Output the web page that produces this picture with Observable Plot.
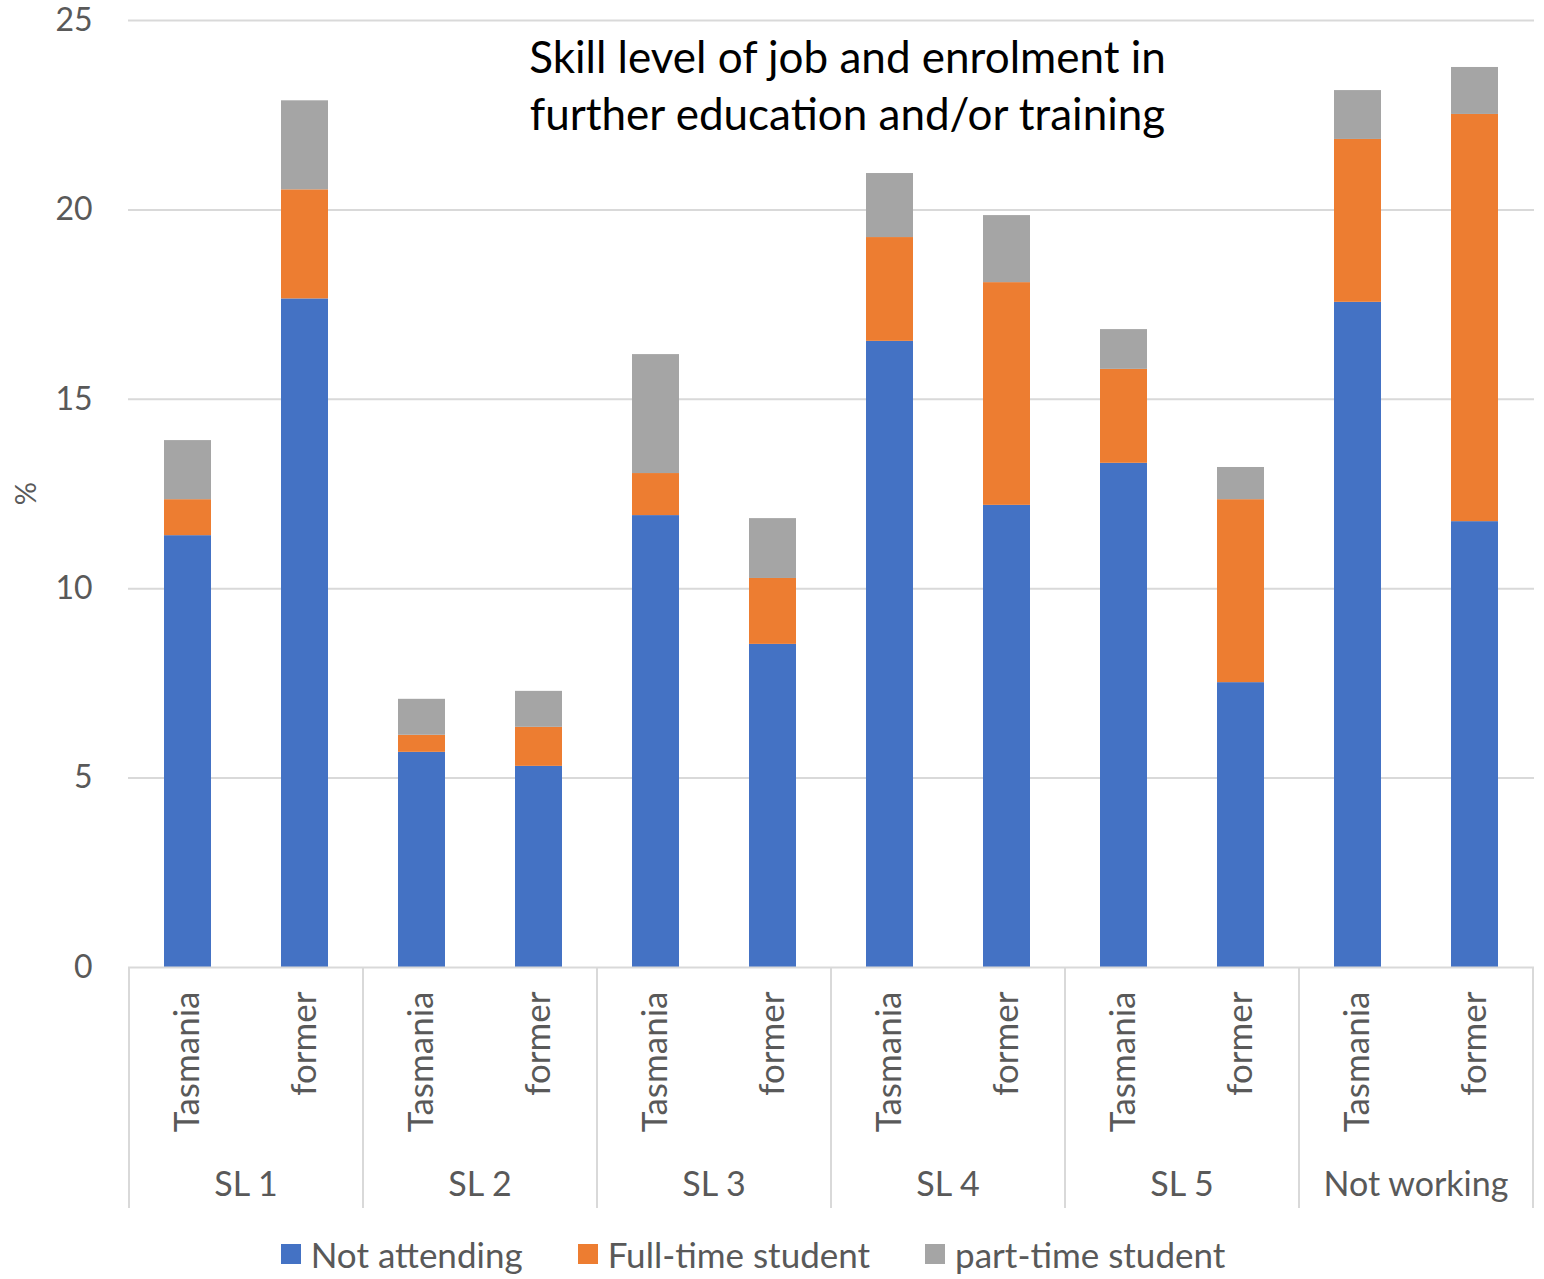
<!DOCTYPE html>
<html>
<head>
<meta charset="utf-8">
<script src="https://cdn.jsdelivr.net/npm/d3@7"></script>
<script src="https://cdn.jsdelivr.net/npm/@observablehq/plot@0.6"></script>
<style>
  html, body { margin: 0; padding: 0; background: #fff; }
  body { width: 1544px; font-family: Lato, "Open Sans", sans-serif; }
  #legend { display: flex; justify-content: center; align-items: center; gap: 55px; height: 54px; margin-right: 38px;
    font-size: 35px; color: #595959; padding-top: 2px; }
  #legend .item { display: flex; align-items: center; }
  #legend .sw { width: 20px; height: 20px; margin-right: 10px; }
</style>
</head>
<body>
<div id="chart"></div>
<div id="legend"></div>
<script>
const groups = ["SL 1", "SL 2", "SL 3", "SL 4", "SL 5", "Not working"];
const subs = ["Tasmania", "former"];
const seriesNames = ["Not attending", "Full-time student", "part-time student"];
const colors = ["#4472C4", "#ED7D31", "#A5A5A5"];
// values per bar, in order SL1 Tas, SL1 former, SL2 Tas, ...
const notAttending = [11.4, 17.65, 5.68, 5.31, 11.93, 8.53, 16.53, 12.2, 13.31, 7.52, 17.56, 11.77];
const fullTime     = [0.95, 2.88, 0.45, 1.03, 1.11, 1.74, 2.74, 5.88, 2.48, 4.83, 4.3, 10.75];
const partTime     = [1.56, 2.35, 0.95, 0.95, 3.14, 1.58, 1.69, 1.77, 1.05, 0.85, 1.29, 1.24];
const yTicks = [0, 5, 10, 15, 20, 25];
const title = "Skill level of job and enrolment in\nfurther education and/or training";

const keys = [];
const cats = [];
groups.forEach(g => subs.forEach(s => { keys.push(g + "|" + s); cats.push({key: g + "|" + s, group: g, sub: s}); }));
const seriesVals = [notAttending, fullTime, partTime];
const data = [];
keys.forEach((k, i) => seriesNames.forEach((s, j) => data.push({key: k, series: s, value: seriesVals[j][i]})));

const textColor = "#595959";
const font = "Lato, 'Open Sans', sans-serif";

const chart = Plot.plot({
  width: 1544,
  height: 1225,
  marginTop: 20,
  marginBottom: 258,
  marginLeft: 128,
  marginRight: 10,
  style: {fontFamily: font, fontSize: "32px", color: textColor, background: "#fff", overflow: "visible"},
  x: {type: "band", domain: keys, paddingInner: 0.6, paddingOuter: 0.3, axis: null},
  y: {domain: [0, 25], ticks: yTicks, tickSize: 0, tickPadding: 36, label: null},
  color: {domain: seriesNames, range: colors},
  marks: [
    Plot.gridY(yTicks.slice(1), {stroke: "#d9d9d9", strokeOpacity: 1, strokeWidth: 2}),
    Plot.axisY({ticks: yTicks, tickSize: 0, tickPadding: 36, fontSize: 32, fill: textColor, label: null}),
    Plot.barY(data, {x: "key", y: "value", fill: "series"}),
    Plot.ruleY([0], {stroke: "#d9d9d9", strokeWidth: 2}),
    Plot.text(cats, {x: "key", text: "sub", frameAnchor: "bottom", rotate: -90, textAnchor: "end", lineAnchor: "middle",
      dy: 24, fontSize: 35, fill: textColor}),
    Plot.text([title], {frameAnchor: "top", dx: 16, dy: 12, lineAnchor: "top", lineHeight: 1.3, fontSize: 44, fill: "#000"})
  ]
});
document.getElementById("chart").appendChild(chart);

// category group axis using the plot's own x scale
const xs = chart.scale("x");
const ys = chart.scale("y");
const bw = xs.bandwidth;
const step = xs.apply(keys[1]) - xs.apply(keys[0]);
const y0 = ys.apply(0);
const svg = d3.select(chart);
const g = svg.append("g");
const bounds = [];
groups.forEach((gr, i) => {
  const a = xs.apply(gr + "|" + subs[0]);
  bounds.push(a - (step - bw) / 2);
});
bounds.push(xs.apply(groups[groups.length - 1] + "|" + subs[1]) + bw + (step - bw) / 2);
bounds.forEach(b => g.append("line").attr("x1", b).attr("x2", b).attr("y1", y0).attr("y2", y0 + 241)
  .attr("stroke", "#d9d9d9").attr("stroke-width", 2));
groups.forEach((gr, i) => {
  const cx = (xs.apply(gr + "|" + subs[0]) + xs.apply(gr + "|" + subs[1]) + bw) / 2;
  g.append("text").attr("x", cx).attr("y", y0 + 229).attr("text-anchor", "middle")
    .attr("font-size", 34).attr("fill", textColor).attr("font-family", font).text(gr);
});
// y label
svg.append("text").attr("transform", `translate(36, ${(ys.apply(0) + ys.apply(25)) / 2}) rotate(-90)`)
  .attr("text-anchor", "middle").attr("font-size", 29).attr("fill", textColor).attr("font-family", font).text("%");

const legend = d3.select("#legend");
seriesNames.forEach((s, i) => {
  const it = legend.append("div").attr("class", "item");
  it.append("div").attr("class", "sw").style("background", colors[i]);
  it.append("span").text(s);
});
</script>
</body>
</html>
